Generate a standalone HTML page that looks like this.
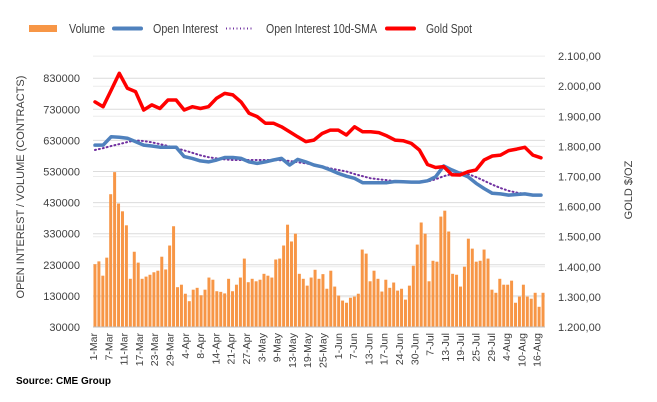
<!DOCTYPE html>
<html><head><meta charset="utf-8"><style>
body{margin:0;background:#fff;}
svg{display:block;font-family:"Liberation Sans",sans-serif;}
</style></head><body>
<svg id="c" width="657" height="402"></svg>
<script>
const volume=[232,241,195,253,457,528,427,402,357,185,272,237,185,192,198,206,211,256,215,292,354,158,166,137,113,150,156,132,150,189,182,145,143,138,185,145,166,189,250,174,185,177,182,201,195,189,247,250,292,359,305,330,201,185,163,189,214,185,200,153,211,160,131,115,108,124,128,137,279,266,177,211,185,144,182,156,173,147,153,118,163,227,295,366,330,177,243,240,385,404,337,201,198,160,224,314,282,240,243,279,250,150,140,185,166,166,179,108,128,166,128,121,140,95,140];
const openInterest=[615,615,642,640,637,626,615,612,608,608,608,578,572,564,561,567,575,575,572,561,556,561,567,572,551,569,561,551,545,535,524,515,508,494,494,494,494,498,497,496,496,500,513,548,535,524,513,492,475,460,458,454,456,458,454,454];
const oiSma=[599,605,612,618,625,630,628,624,618,612,605,598,590,582,576,572,569,567,567,567,567,567,567,566,564,560,556,552,546,540,535,530,522,515,508,505,502,499,497,497,497,498,505,515,522,527,522,512,500,488,477,468,462,458,455,454];
const goldSpot=[1948,1932,1987,2043,1993,1982,1921,1938,1926,1954,1954,1921,1932,1926,1932,1960,1976,1971,1948,1910,1899,1877,1877,1865,1849,1832,1816,1821,1843,1854,1854,1838,1865,1849,1849,1846,1835,1821,1819,1810,1788,1740,1730,1733,1706,1705,1716,1722,1755,1768,1771,1786,1791,1797,1771,1762];
const leftTicks=[30000,130000,230000,330000,430000,530000,630000,730000,830000];
const rightTicks=[1200,1300,1400,1500,1600,1700,1800,1900,2000,2100];
const rightLabels=["1.200,00","1.300,00","1.400,00","1.500,00","1.600,00","1.700,00","1.800,00","1.900,00","2.000,00","2.100,00"];
const dateLabels=["1-Mar","7-Mar","11-Mar","17-Mar","23-Mar","29-Mar","4-Apr","8-Apr","14-Apr","21-Apr","27-Apr","3-May","9-May","13-May","19-May","25-May","1-Jun","7-Jun","13-Jun","17-Jun","24-Jun","30-Jun","7-Jul","13-Jul","19-Jul","25-Jul","29-Jul","4-Aug","10-Aug","16-Aug"];

const NS="http://www.w3.org/2000/svg",svg=document.getElementById('c');
const X0=93,X1=545,Y0=327;
const yL=v=>Y0-(v-30000)/100000*31.1;
const yR=v=>Y0-(v-1200)/100*30.1;
const bw=(X1-X0)/volume.length;
const xBar=i=>X0+bw*(i+0.5);
const xLine=(i,n)=>X0+2+(X1-X0-6)*i/(n-1);
function mk(t,a,p){const e=document.createElementNS(NS,t);for(const k in a)e.setAttribute(k,a[k]);(p||svg).appendChild(e);return e;}

for(const v of rightTicks){const l=mk('line',{x1:X0,x2:X1,y1:yR(v),y2:yR(v),stroke:'#ececec','stroke-width':1});

}
for(const v of leftTicks){const l=mk('line',{x1:X0,x2:X1,y1:yL(v),y2:yL(v),stroke:'#dcdcdc','stroke-width':1});

}
leftTicks.forEach(v=>{const t=mk('text',{x:80,y:yL(v)+4,'text-anchor':'end','font-size':11,fill:'#404040'});t.textContent=v;

});
rightTicks.forEach((v,i)=>{const t=mk('text',{x:558,y:yR(v)+4,'font-size':11,fill:'#404040'});t.textContent=rightLabels[i];

});
volume.forEach((v,i)=>{const r=mk('rect',{x:xBar(i)-bw*0.38,width:bw*0.76,y:yL(v*1000),height:Y0-yL(v*1000),fill:'#f79646'});

});
mk('line',{x1:X0,x2:X1,y1:Y0,y2:Y0,stroke:'#bfbfbf'});
function line(arr,f,color,w,dash,name){const n=arr.length;const d=arr.map((v,i)=>(i?'L':'M')+xLine(i,n).toFixed(1)+','+f(v).toFixed(1)).join('');
const p=mk('path',{d:d,fill:'none',stroke:color,'stroke-width':w,'stroke-linejoin':'round','stroke-linecap':'round'});if(dash)p.setAttribute('stroke-dasharray',dash);

}
line(oiSma,v=>yL(v*1000),'#7030a0',2,'1 3','oi-sma-line');
line(openInterest,v=>yL(v*1000),'#4f81bd',3.5,null,'open-interest-line');
line(goldSpot,yR,'#ff0000',3.5,null,'gold-spot-line');
dateLabels.forEach((s,i)=>{const x=X0+4+i*15.3;const t=mk('text',{x:0,y:0,'text-anchor':'end','font-size':10.5,fill:'#404040',transform:`translate(${x},333) rotate(-90)`});t.textContent=s;

});
let t=mk('text',{x:0,y:0,'text-anchor':'middle','font-size':11,fill:'#404040',transform:'translate(24,187) rotate(-90)'});t.textContent='OPEN INTEREST / VOLUME (CONTRACTS)';

t=mk('text',{x:0,y:0,'text-anchor':'middle','font-size':11,fill:'#404040',transform:'translate(632,190) rotate(-90)'});t.textContent='GOLD $/OZ';

const lg=mk('g',{});
mk('rect',{x:29,y:25,width:28,height:7,fill:'#f79646'},lg);
mk('line',{x1:114,x2:141,y1:28.5,y2:28.5,stroke:'#4f81bd','stroke-width':4,'stroke-linecap':'round'},lg);
mk('line',{x1:226,x2:254,y1:28.5,y2:28.5,stroke:'#7030a0','stroke-width':2,'stroke-dasharray':'1 2.5'},lg);
mk('line',{x1:387,x2:414,y1:28.5,y2:28.5,stroke:'#ff0000','stroke-width':4,'stroke-linecap':'round'},lg);
[['Volume',69,36],['Open Interest',153,65],['Open Interest 10d-SMA',266,111],['Gold Spot',426,46]].forEach(([s,x,w])=>{const e=mk('text',{x:x,y:33,'font-size':12.5,fill:'#404040',textLength:w,lengthAdjust:'spacingAndGlyphs'},lg);e.textContent=s;
});
t=mk('text',{x:16,y:384,'font-size':10,'font-weight':'bold',fill:'#000'});t.textContent='Source: CME Group';

</script>
</body></html>
